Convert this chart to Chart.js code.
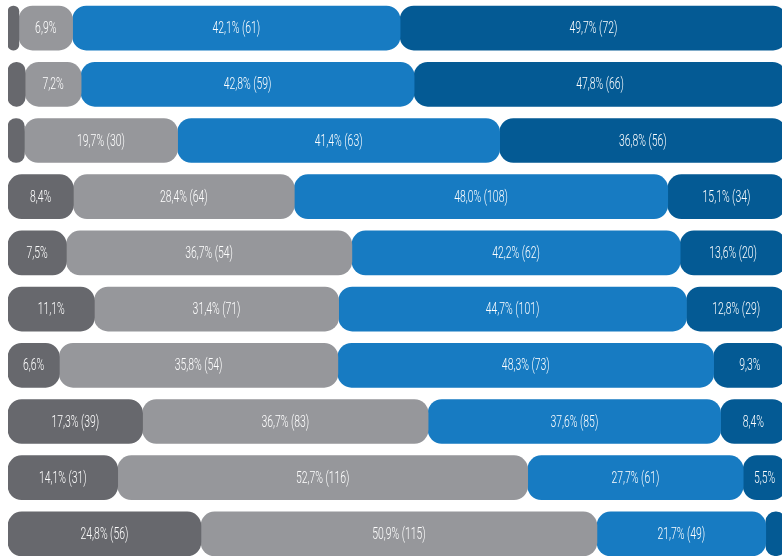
<!DOCTYPE html>
<html>
<head>
<meta charset="utf-8">
<script src="https://cdn.jsdelivr.net/npm/chart.js@4/dist/chart.umd.min.js"></script>
<style>
  html, body { margin: 0; padding: 0; background: #fff; overflow: hidden; }
  #wrap { width: 786px; height: 562px; position: relative; }
</style>
</head>
<body>
<div id="wrap"><canvas id="chart"></canvas></div>
<script>
// rows, top to bottom (no category names shown in the picture)
const categories = ['1', '2', '3', '4', '5', '6', '7', '8', '9', '10'];

// share in % per segment, left to right
const seriesA = [1.4, 2.2, 2.1, 8.4, 7.5, 11.1, 6.6, 17.3, 14.1, 24.8];
const seriesB = [6.9, 7.2, 19.7, 28.4, 36.7, 31.4, 35.8, 36.7, 52.7, 50.9];
const seriesC = [42.1, 42.8, 41.4, 48.0, 42.2, 44.7, 48.3, 37.6, 27.7, 21.7];
const seriesD = [49.7, 47.8, 36.8, 15.1, 13.6, 12.8, 9.3, 8.4, 5.5, 2.6];

// counts shown in brackets (null = not printed)
const countsA = [null, null, null, null, null, null, null, 39, 31, 56];
const countsB = [null, null, 30, 64, 54, 71, 54, 83, 116, 115];
const countsC = [61, 59, 63, 108, 62, 101, 73, 85, 61, 49];
const countsD = [72, 66, 56, 34, 20, 29, null, null, null, null];

const colors = ['#67686d', '#96979b', '#177bc2', '#045a94'];

const allCounts = [countsA, countsB, countsC, countsD];

const segmentLabels = {
    id: 'segmentLabels',
    afterDatasetsDraw(chart) {
        const ctx = chart.ctx;
        ctx.save();
        ctx.fillStyle = '#ffffff';
        ctx.font = '300 16px Roboto, "DejaVu Sans Condensed", sans-serif';
        ctx.textAlign = 'center';
        ctx.textBaseline = 'middle';
        chart.data.datasets.forEach((ds, i) => {
            const meta = chart.getDatasetMeta(i);
            meta.data.forEach((bar, j) => {
                const w = Math.abs(bar.x - bar.base);
                if (w < 30) return;
                const v = ds.data[j];
                const c = allCounts[i][j];
                let text = v.toFixed(1).replace('.', ',') + '%';
                if (c !== null) text += ' (' + c + ')';
                ctx.save();
                ctx.translate((bar.x + bar.base) / 2, bar.y + 1);
                ctx.scale(0.65, 1);
                ctx.fillText(text, 0, 0);
                ctx.restore();
            });
        });
        ctx.restore();
    }
};

const radius = { topLeft: 14, topRight: 14, bottomLeft: 14, bottomRight: 14 };

new Chart(document.getElementById('chart'), {
    type: 'bar',
    data: {
        labels: categories,
        datasets: [seriesA, seriesB, seriesC, seriesD].map((d, i) => ({
            data: d,
            backgroundColor: colors[i],
            borderWidth: 0,
            borderSkipped: false,
            borderRadius: radius,
            barThickness: 44
        }))
    },
    options: {
        indexAxis: 'y',
        responsive: true,
        maintainAspectRatio: false,
        animation: false,
        layout: { padding: { left: 8, right: 0, top: 0, bottom: 0 } },
        scales: {
            x: { stacked: true, min: 0, max: 100, display: false },
            y: { stacked: true, display: false }
        },
        plugins: {
            legend: { display: false },
            tooltip: { enabled: false }
        }
    },
    plugins: [segmentLabels]
});
</script>
</body>
</html>
